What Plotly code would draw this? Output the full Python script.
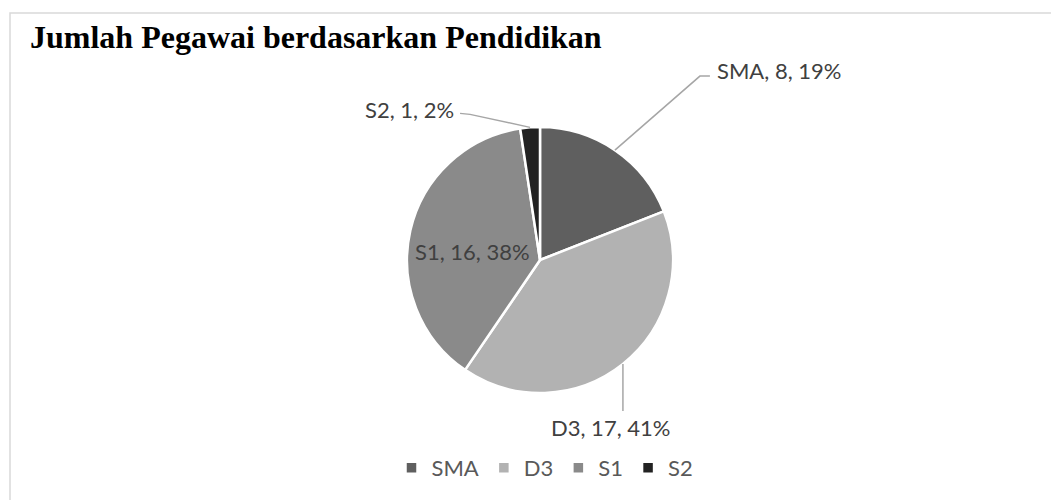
import math
import plotly.graph_objects as go

# ---- data ----
categories = ["SMA", "D3", "S1", "S2"]
values = [8, 17, 16, 1]
percent_labels = ["19%", "41%", "38%", "2%"]
title_text = "Jumlah Pegawai berdasarkan Pendidikan"

# ---- style ----
colors = ["#5f5f5f", "#b2b2b2", "#8a8a8a", "#222222"]
OFF = 8  # default page body margin
W, H = 1059 - OFF, 500 - OFF
cx, cy, R = 540, 260, 133
LABEL_FONT = "Lato"
LEADER = "#a6a6a6"


def px(x):
    return (x - OFF) / W


def py(y):
    return 1 - (y - OFF) / H


fig = go.Figure(
    go.Pie(
        labels=categories,
        values=values,
        sort=False,
        direction="clockwise",
        rotation=0,
        marker=dict(colors=colors, line=dict(color="white", width=2.5)),
        textinfo="none",
        hoverinfo="label+value+percent",
        domain=dict(x=[px(cx - R), px(cx + R)], y=[py(cy + R), py(cy - R)]),
        showlegend=True,
    )
)

# label placement (offsets in px relative to the slice's outer mid point)
label_layout = {
    "SMA": dict(mode="out", path=[(85, -74), (95, -74)], text=(100, -80), anchor="left"),
    "D3": dict(mode="out", path=[(0, 47)], text=(-12, 64), anchor="center"),
    "S1": dict(mode="in", text=(-68, -8)),
    "S2": dict(mode="out", path=[(-60, -13), (-70, -14)], text=(-74, -18), anchor="right"),
}

total = sum(values)
cum = 0
shapes = []
annotations = []
for cat, v, pct in zip(categories, values, percent_labels):
    mid = (cum + v / 2) / total * 2 * math.pi
    cum += v
    ex = cx + R * math.sin(mid)
    ey = cy - R * math.cos(mid)
    cfg = label_layout[cat]
    label = f"{cat}, {v}, {pct}"
    if cfg["mode"] == "in":
        tx, ty = cx + cfg["text"][0], cy + cfg["text"][1]
        annotations.append(dict(
            x=px(tx), y=py(ty), xref="paper", yref="paper", text=label,
            showarrow=False, xanchor="center", yanchor="middle",
            font=dict(family=LABEL_FONT, size=22, color="#404040"),
        ))
    else:
        pts = [(ex, ey)] + [(ex + dx, ey + dy) for dx, dy in cfg["path"]]
        d = "M " + " L ".join(f"{px(a)},{py(b)}" for a, b in pts)
        shapes.append(dict(type="path", path=d, xref="paper", yref="paper",
                           line=dict(color=LEADER, width=1.5)))
        tx, ty = ex + cfg["text"][0], ey + cfg["text"][1]
        annotations.append(dict(
            x=px(tx), y=py(ty), xref="paper", yref="paper", text=label,
            showarrow=False, xanchor=cfg["anchor"], yanchor="middle",
            font=dict(family=LABEL_FONT, size=22, color="#404040"),
        ))

# chart border
shapes.append(dict(type="rect", xref="paper", yref="paper",
                   x0=px(10), y0=py(515), x1=px(1075), y1=py(13),
                   line=dict(color="#d9d9d9", width=1.5), layer="below"))

fig.update_layout(
    width=W,
    height=H,
    margin=dict(l=0, r=0, t=0, b=0),
    paper_bgcolor="white",
    plot_bgcolor="white",
    title=dict(
        text=title_text,
        x=px(30), xanchor="left", xref="paper",
        y=py(37), yanchor="middle", yref="paper",
        font=dict(family="Liberation Serif", size=32, color="black", weight="bold"),
    ),
    legend=dict(
        orientation="h",
        x=px(545), xanchor="center",
        y=py(468), yanchor="middle",
        font=dict(family=LABEL_FONT, size=22, color="#595959"),
        itemwidth=30,
        traceorder="normal",
    ),
    shapes=shapes,
    annotations=annotations,
)

fig.write_html("out.html")
